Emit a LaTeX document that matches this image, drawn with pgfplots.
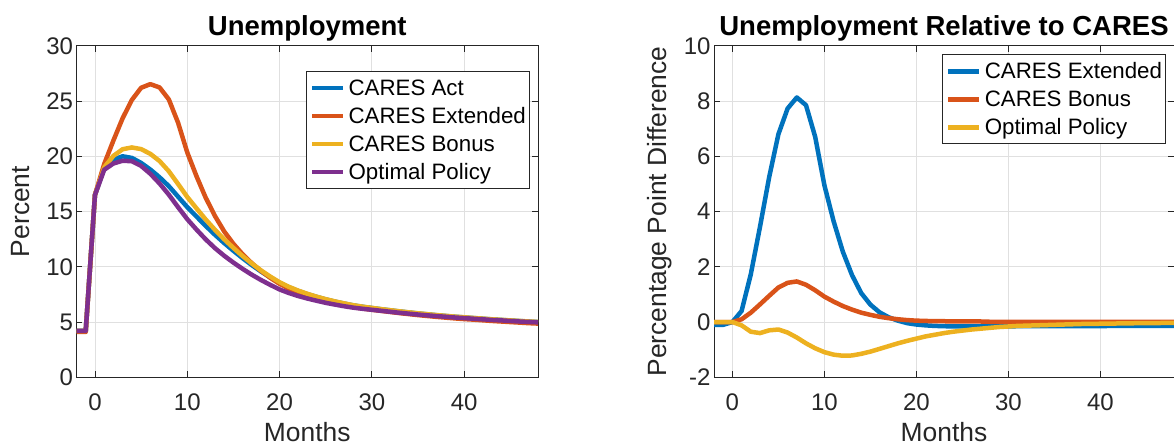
\documentclass[border=0pt]{standalone}
\usepackage{fontspec}
\setmainfont{Liberation Sans}
\usepackage{pgfplots}
\pgfplotsset{compat=1.18}
\usepackage{pgfplotstable}

\definecolor{mblue}{rgb}{0,0.447,0.741}
\definecolor{morange}{rgb}{0.85,0.325,0.098}
\definecolor{myellow}{rgb}{0.929,0.694,0.125}
\definecolor{mpurple}{rgb}{0.494,0.184,0.556}
\definecolor{axgray}{rgb}{0.15,0.15,0.15}
\definecolor{gridgray}{rgb}{0.88,0.88,0.88}

\pgfplotstableread{
x act ext bonus opt
-2 4.2 4.1 4.2 4.2
-1 4.2 4.1 4.2 4.2
0 16.5 16.5 16.5 16.5
1 18.9 19.3 19.0 18.78
2 19.7 21.43 20.04 19.35
3 20.0 23.45 20.64 19.6
4 19.85 25.1 20.8 19.55
5 19.4 26.2 20.65 19.13
6 18.8 26.53 20.22 18.42
7 18.1 26.23 19.57 17.54
8 17.3 25.15 18.65 16.53
9 16.35 23.05 17.5 15.4
10 15.4 20.35 16.32 14.31
11 14.55 18.2 15.29 13.37
12 13.7 16.25 14.28 12.48
13 12.9 14.6 13.35 11.69
14 12.15 13.2 12.49 11.0
15 11.45 12.08 11.71 10.38
16 10.78 11.13 10.97 9.81
17 10.15 10.32 10.29 9.28
18 9.57 9.62 9.67 8.8
19 9.04 9.0 9.11 8.36
20 8.55 8.46 8.6 7.95
21 8.15 8.03 8.19 7.63
22 7.82 7.68 7.85 7.36
23 7.53 7.38 7.56 7.13
24 7.28 7.12 7.30 6.93
25 7.05 6.89 7.07 6.74
26 6.85 6.69 6.87 6.58
27 6.67 6.51 6.69 6.43
28 6.51 6.35 6.52 6.30
29 6.38 6.22 6.39 6.20
30 6.27 6.11 6.28 6.11
31 6.16 6.01 6.17 6.02
32 6.06 5.91 6.07 5.93
33 5.96 5.81 5.97 5.84
34 5.87 5.72 5.88 5.76
35 5.78 5.63 5.79 5.68
36 5.7 5.55 5.71 5.61
37 5.62 5.47 5.63 5.54
38 5.55 5.4 5.56 5.48
39 5.48 5.33 5.49 5.41
40 5.42 5.27 5.43 5.36
41 5.36 5.22 5.37 5.30
42 5.3 5.16 5.31 5.25
43 5.24 5.1 5.25 5.19
44 5.19 5.05 5.20 5.15
45 5.14 5.0 5.15 5.10
46 5.09 4.95 5.10 5.05
47 5.04 4.9 5.05 5.01
48 5.0 4.86 5.01 4.97
}\unemp

\pgfplotstableread{
x ext bonus opt
-2 -0.1 0 0
-1 -0.1 0 0
0 0 0 0
1 0.4 0.1 -0.12
2 1.73 0.34 -0.35
3 3.45 0.64 -0.4
4 5.25 0.95 -0.3
5 6.8 1.25 -0.27
6 7.73 1.42 -0.38
7 8.13 1.47 -0.56
8 7.85 1.35 -0.77
9 6.7 1.15 -0.95
10 4.95 0.92 -1.09
11 3.65 0.74 -1.18
12 2.55 0.58 -1.22
13 1.7 0.45 -1.21
14 1.05 0.34 -1.15
15 0.63 0.26 -1.07
16 0.35 0.19 -0.97
17 0.17 0.14 -0.87
18 0.05 0.1 -0.77
19 -0.04 0.07 -0.68
20 -0.09 0.05 -0.6
21 -0.12 0.04 -0.52
22 -0.14 0.03 -0.46
23 -0.15 0.03 -0.4
24 -0.16 0.02 -0.35
25 -0.16 0.02 -0.31
26 -0.16 0.02 -0.27
27 -0.16 0.02 -0.24
28 -0.16 0.01 -0.21
29 -0.16 0.01 -0.18
30 -0.16 0.01 -0.16
31 -0.15 0.01 -0.14
32 -0.15 0.01 -0.13
33 -0.15 0.01 -0.12
34 -0.15 0.01 -0.11
35 -0.15 0.01 -0.1
36 -0.15 0.01 -0.09
37 -0.15 0.01 -0.08
38 -0.15 0.01 -0.07
39 -0.15 0.01 -0.07
40 -0.15 0.01 -0.06
41 -0.14 0.01 -0.06
42 -0.14 0.01 -0.05
43 -0.14 0.01 -0.05
44 -0.14 0.01 -0.04
45 -0.14 0.01 -0.04
46 -0.14 0.01 -0.04
47 -0.14 0.01 -0.03
48 -0.14 0.01 -0.03
}\diff

\pgfplotsset{
  mstyle/.style={
    scale only axis,
    height=331.5pt,
    xmin=-2, xmax=48,
    xtick={0,10,20,30,40},
    grid=major,
    major grid style={gridgray, line width=0.8pt},
    axis line style={axgray, line width=0.9pt},
    tick style={axgray, line width=0.9pt},
    major tick length=6pt,
    tick align=inside,
    ticklabel style={font=\fontsize{24}{28}\selectfont, text=axgray},
    xticklabel style={anchor=base, yshift=-33pt},
    /pgf/number format/assume math mode=true,
    every axis x label/.style={at={(axis description cs:0.5,0)}, anchor=base, yshift=-64.5pt,
      font=\fontsize{26.4}{30}\selectfont, text=axgray},
    every axis title/.style={at={(axis description cs:0.5,1)}, anchor=base, yshift=10.3pt,
      font=\fontsize{27.5}{31}\selectfont\bfseries},
    legend style={font=\fontsize{22.3}{26}\selectfont, draw=axgray, line width=0.9pt,
      inner xsep=3.5pt, inner ysep=5pt, row sep=5pt, column sep=3.3pt,
      nodes={inner sep=0pt, text height=19pt, text depth=4pt, text=black}},
    legend cell align=left,
    legend image code/.code={\draw[#1, line width=4.5pt] (0pt,0pt) -- (31pt,0pt);},
    every axis plot/.append style={line width=4.5pt, line join=round},
  }
}

\begin{document}
\begin{tikzpicture}
\begin{axis}[mstyle,
  at={(76.5pt,68.7pt)}, anchor=south west,
  width=461.5pt,
  ymin=0, ymax=30, ytick={0,5,...,30},
  title={Unemployment},
  xlabel={Months}, ylabel={Percent},
  every axis y label/.style={at={(axis description cs:-0.1029,0.5)}, rotate=90, anchor=base,
    font=\fontsize{26.4}{30}\selectfont, text=axgray},
  legend style={at={(0.497,0.924)}, anchor=north west},
]
\addplot[mblue] table[x=x, y=act] {\unemp};
\addlegendentry{CARES Act}
\addplot[morange] table[x=x, y=ext] {\unemp};
\addlegendentry{CARES Extended}
\addplot[myellow] table[x=x, y=bonus] {\unemp};
\addlegendentry{CARES Bonus}
\addplot[mpurple] table[x=x, y=opt] {\unemp};
\addlegendentry{Optimal Policy}
\end{axis}

\begin{axis}[mstyle,
  at={(714pt,68.7pt)}, anchor=south west,
  width=460pt,
  ymin=-2, ymax=10, ytick={-2,0,...,10},
  title={Unemployment Relative to CARES},
  xlabel={Months}, ylabel={Percentage Point Difference},
  every axis y label/.style={at={(axis description cs:-0.1022,0.5)}, rotate=90, anchor=base,
    font=\fontsize{26.4}{30}\selectfont, text=axgray},
  legend style={at={(0.4957,0.974)}, anchor=north west},
]
\addplot[mblue] table[x=x, y=ext] {\diff};
\addlegendentry{CARES Extended}
\addplot[morange] table[x=x, y=bonus] {\diff};
\addlegendentry{CARES Bonus}
\addplot[myellow] table[x=x, y=opt] {\diff};
\addlegendentry{Optimal Policy}
\end{axis}
\pgfresetboundingbox
\useasboundingbox (0,0) rectangle (1174pt,446pt);
\end{tikzpicture}
\end{document}
